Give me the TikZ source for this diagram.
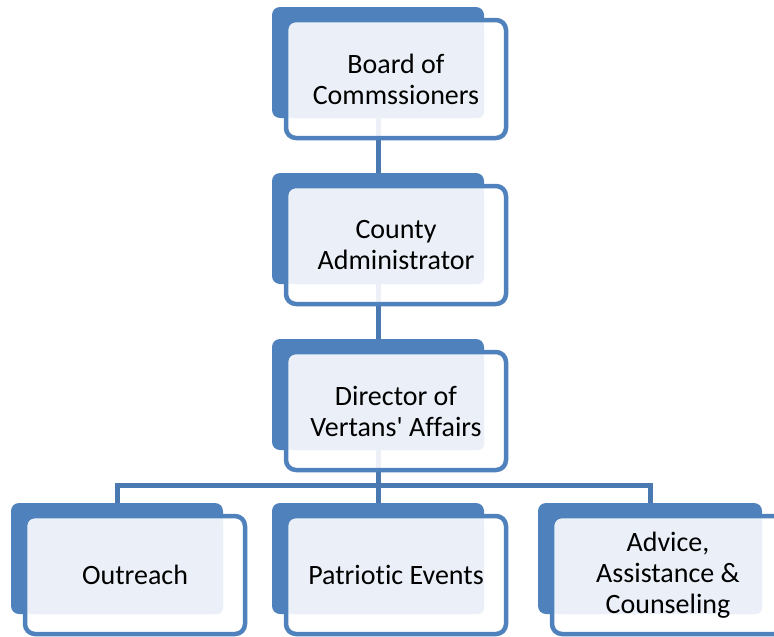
\documentclass[tikz,border=0pt]{standalone}
\usepackage{fontspec}
\setmainfont{Carlito}[Ligatures={NoCommon}]
\usetikzlibrary{calc}
\definecolor{unitblue}{HTML}{4F81BD}
\definecolor{linkblue}{HTML}{4A78B0}
\definecolor{unitlight}{HTML}{EBF0F8}
\begin{document}
\begin{tikzpicture}[x=1pt, y=-1pt,
    back/.style={rectangle, fill=unitblue, rounded corners=8pt, minimum width=212pt, minimum height=111pt, anchor=north west, outer sep=0pt, inner sep=0pt},
    front/.style={rectangle, draw=unitblue, line width=4.5pt, fill=white, fill opacity=0.9, rounded corners=10pt, minimum width=220pt, minimum height=118pt, anchor=north west, outer sep=0pt, inner sep=0pt},
    inner/.style={fill=unitlight, rounded corners=6pt},
    unittext/.style={align=center, font=\fontsize{28}{31}\selectfont},
    link/.style={draw=linkblue, line width=5pt}
]
\clip (0,0) rectangle (774,637);
\fill[white] (0,0) rectangle (774,637);

% back boxes first, connectors under the front boxes
\node[back] (b1) at (272,7) {};
\node[back] (b2) at (272,173) {};
\node[back] (b3) at (272,339) {};
\node[back] (b4) at (11,503) {};
\node[back] (b5) at (272,503) {};
\node[back, minimum width=224pt] (b6) at (538,503) {};

% Connectors
\coordinate (split) at ($(b3.south)+(0,35)$);
\draw[link] (b1.south) -- (b2.north);
\draw[link] (b2.south) -- (b3.north);
\draw[link] (b3.south) -- (split) -| (b4.north);
\draw[link] (split) -| (b6.north);
\draw[link] (split) -- (b5.north);

% Board
\node[front] (f1) at ($(b1.north west)+(14,13)$) {};
\fill[inner] ($(f1.north west)+(3,3)$) rectangle (b1.south east);
\node[unittext] (t1) at (f1) {Board of\\Commssioners};

% County administrator
\node[front] (f2) at ($(b2.north west)+(14,13)$) {};
\fill[inner] ($(f2.north west)+(3,3)$) rectangle (b2.south east);
\node[unittext] (t2) at (f2) {County\\Administrator};

% Director
\node[front] (f3) at ($(b3.north west)+(14,13)$) {};
\fill[inner] ($(f3.north west)+(3,3)$) rectangle (b3.south east);
\node[unittext] (t3) at (f3) {Director of\\Vertans\textquotesingle{} Affairs};

% Outreach
\node[front] (f4) at ($(b4.north west)+(14,13)$) {};
\fill[inner] ($(f4.north west)+(3,3)$) rectangle (b4.south east);
\node[unittext] (t4) at (f4) {Outreach};

% Patriotic events
\node[front] (f5) at ($(b5.north west)+(14,13)$) {};
\fill[inner] ($(f5.north west)+(3,3)$) rectangle (b5.south east);
\node[unittext] (t5) at (f5) {Patriotic Events};

% Advice
\node[front, minimum width=232pt] (f6) at ($(b6.north west)+(14,13)$) {};
\fill[inner] ($(f6.north west)+(3,3)$) rectangle (b6.south east);
\node[unittext] (t6) at (f6) {Advice,\\Assistance \&\\Counseling};
\end{tikzpicture}
\end{document}
